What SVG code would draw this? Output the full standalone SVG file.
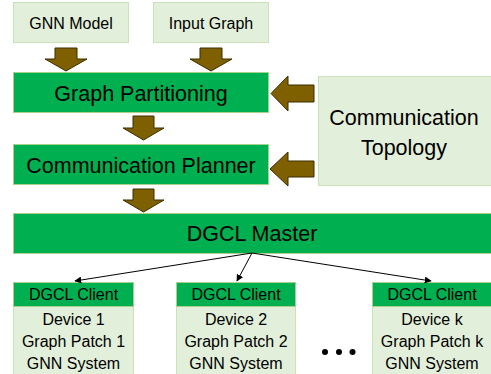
<svg xmlns="http://www.w3.org/2000/svg" width="491" height="374" viewBox="0 0 491 374">
  <defs>
    <style>
      .light { fill: #E2EFDA; stroke: #C9E2B8; stroke-width: 1; }
      .green { fill: #00B050; stroke: #A9D18E; stroke-width: 1; }
      .big { font-family: "Liberation Sans", Arial, sans-serif; font-size: 21.5px; fill: #000; text-anchor: middle; }
      .small { font-family: "Liberation Sans", Arial, sans-serif; font-size: 16px; fill: #000; text-anchor: middle; }
      .block { fill: #7F6000; stroke: #3B2C00; stroke-width: 1; stroke-linejoin: miter; }
      .link { stroke: #000; stroke-width: 1; fill: none; marker-end: url(#tip); }
    </style>
    <marker id="tip" viewBox="0 0 10 10" refX="9" refY="5" markerWidth="7" markerHeight="7" markerUnits="userSpaceOnUse" orient="auto">
      <path d="M0,0 L10,5 L0,10 z" fill="#000"/>
    </marker>
  </defs>

  <!-- inputs -->
  <g id="gnn-model">
    <rect class="light" x="13.5" y="2.5" width="115" height="40"/>
    <text class="small" x="71" y="29">GNN Model</text>
  </g>
  <g id="input-graph">
    <rect class="light" x="153.5" y="2.5" width="115" height="40"/>
    <text class="small" x="211" y="29">Input Graph</text>
  </g>

  <!-- pipeline stages -->
  <g id="graph-partitioning">
    <rect class="green" x="13.5" y="72.5" width="255" height="40"/>
    <text class="big" x="141" y="101">Graph Partitioning</text>
  </g>
  <g id="communication-planner">
    <rect class="green" x="13.5" y="144.5" width="255" height="40"/>
    <text class="big" x="141" y="173">Communication Planner</text>
  </g>
  <g id="communication-topology">
    <rect class="light" x="318.5" y="76.5" width="173" height="109"/>
    <text class="big" x="404" y="125">Communication</text>
    <text class="big" x="404" y="155">Topology</text>
  </g>
  <g id="dgcl-master">
    <rect class="green" x="13.5" y="213.5" width="478" height="40"/>
    <text class="big" x="252" y="241">DGCL Master</text>
  </g>

  <!-- clients -->
  <g id="client-1">
    <rect class="light" x="13.5" y="306.5" width="120" height="80"/>
    <rect class="green" x="13.5" y="282.5" width="120" height="24"/>
    <text class="small" x="73.5" y="300">DGCL Client</text>
    <text class="small" x="73.5" y="325">Device 1</text>
    <text class="small" x="73.5" y="347">Graph Patch 1</text>
    <text class="small" x="73.5" y="369">GNN System</text>
  </g>
  <g id="client-2">
    <rect class="light" x="176.5" y="306.5" width="119" height="80"/>
    <rect class="green" x="176.5" y="282.5" width="119" height="24"/>
    <text class="small" x="236" y="300">DGCL Client</text>
    <text class="small" x="236" y="325">Device 2</text>
    <text class="small" x="236" y="347">Graph Patch 2</text>
    <text class="small" x="236" y="369">GNN System</text>
  </g>
  <g id="client-k">
    <rect class="light" x="372.5" y="306.5" width="120" height="80"/>
    <rect class="green" x="372.5" y="282.5" width="120" height="24"/>
    <text class="small" x="432" y="300">DGCL Client</text>
    <text class="small" x="432" y="325">Device k</text>
    <text class="small" x="432" y="347">Graph Patch k</text>
    <text class="small" x="432" y="369">GNN System</text>
  </g>
  <g id="ellipsis" fill="#000">
    <circle cx="325" cy="352" r="3"/>
    <circle cx="339" cy="352" r="3"/>
    <circle cx="352.5" cy="352" r="3"/>
  </g>

  <!-- connectors -->
  <g id="connectors">
    <polygon class="block" points="55,48 77,48 77,59 87,59 66,71 45,59 55,59"/>
    <polygon class="block" points="200,48 222,48 222,59 232,59 211,71 190,59 200,59"/>
    <polygon class="block" points="133,116 154,116 154,128 164,128 143.5,140 123,128 133,128"/>
    <polygon class="block" points="133,189 154,189 154,200 164,200 143.5,212 123,200 133,200"/>
    <polygon class="block" points="314,85 288,85 288,76 271,93.5 288,111 288,102 314,102"/>
    <polygon class="block" points="314,161 288,161 288,152 270,169 288,186 288,177 314,177"/>
    <line class="link" x1="252" y1="253" x2="75" y2="281"/>
    <line class="link" x1="252" y1="253" x2="237" y2="281"/>
    <line class="link" x1="252" y1="253" x2="431" y2="281"/>
  </g>
</svg>
